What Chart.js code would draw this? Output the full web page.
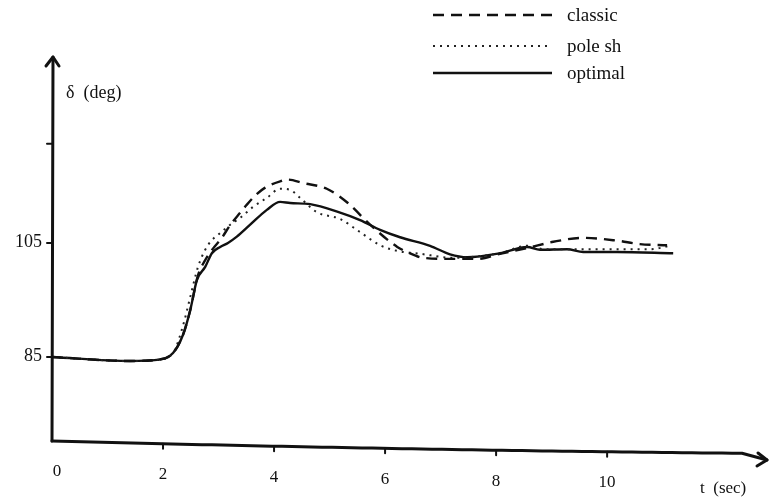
<!DOCTYPE html>
<html>
<head>
<meta charset="utf-8">
<script src="https://cdn.jsdelivr.net/npm/chart.js@4/dist/chart.umd.min.js"></script>
<style>
  html, body { margin: 0; padding: 0; background: #fff; }
  #wrap { width: 772px; height: 498px; }
</style>
</head>
<body>
<div id="wrap"><canvas id="c" width="772" height="498"></canvas></div>
<script>
// ---- data ----
const seriesNames = ['classic', 'pole sh', 'optimal'];

const classicT     = [0, 1.41, 1.89, 2.18, 2.36, 2.49, 2.63, 2.76, 2.9, 3.06, 3.2, 3.39, 3.5, 3.66, 3.84, 4.11, 4.25, 4.52, 4.95, 5.33, 5.73, 6.22, 6.40, 6.68, 7.17, 7.66, 8.07, 8.56, 9.03, 9.57, 10.18, 10.59, 11.08];
const classicDelta = [85.0, 84.3, 84.5, 85.7, 88.9, 93.2, 99.3, 102.0, 104.0, 105.9, 108.0, 110.3, 111.6, 113.3, 114.7, 115.8, 116.1, 115.5, 114.5, 112.0, 108.2, 104.3, 103.4, 102.4, 102.2, 102.2, 103.1, 104.1, 105.2, 105.9, 105.4, 104.8, 104.6];

const poleT     = [0, 1.41, 1.89, 2.18, 2.36, 2.49, 2.63, 2.76, 2.88, 2.99, 3.21, 3.39, 3.62, 3.87, 4.11, 4.29, 4.47, 4.77, 5.19, 5.55, 5.91, 6.22, 6.63, 7.23, 7.71, 8.07, 8.56, 8.88, 9.57, 10.18, 10.77, 11.14];
const poleDelta = [85.0, 84.3, 84.5, 85.7, 90.5, 95.5, 100.8, 103.8, 105.5, 106.4, 108.2, 109.4, 111.3, 112.9, 114.5, 114.3, 112.9, 110.4, 109.2, 106.9, 104.6, 103.6, 103.1, 102.4, 102.7, 103.2, 104.5, 103.9, 103.9, 103.9, 103.9, 104.5];

const optimalT     = [0, 1.41, 1.89, 2.18, 2.36, 2.49, 2.61, 2.76, 2.88, 3.03, 3.17, 3.33, 3.57, 3.87, 4.11, 4.29, 4.65, 5.19, 5.55, 5.91, 6.27, 6.81, 7.17, 7.48, 8.07, 8.56, 8.79, 9.28, 9.57, 10.18, 11.19];
const optimalDelta = [85.0, 84.3, 84.5, 85.7, 88.9, 93.2, 98.5, 100.8, 103.2, 104.3, 105.0, 106.1, 108.2, 110.8, 112.2, 112.0, 111.8, 110.3, 109.0, 107.3, 106.0, 104.5, 103.0, 102.5, 103.2, 104.3, 103.8, 103.9, 103.4, 103.4, 103.2];

const xTickValues = [0, 2, 4, 6, 8, 10];
const xTickLabels = ['0', '2', '4', '6', '8', '10'];
const yTickValues = [85, 105, 122.4];
const yTickLabels = ['85', '105', ''];
const xTitle = 't  (sec)';
const yTitle = 'δ  (deg)';

function pts(ts, vs) { return ts.map((t, i) => ({ x: t, y: vs[i] })); }

const INK = '#111';
const SERIF = "'Liberation Serif', 'DejaVu Serif', serif";

const datasets = [
  { label: seriesNames[0], data: pts(classicT, classicDelta), borderColor: INK, borderWidth: 2.4, borderDash: [11, 7] },
  { label: seriesNames[1], data: pts(poleT, poleDelta), borderColor: '#222', borderWidth: 2, borderDash: [2, 5] },
  { label: seriesNames[2], data: pts(optimalT, optimalDelta), borderColor: INK, borderWidth: 2.4, borderDash: [] }
];

// tilt of the scanned x-axis (pixels below the plot bottom, as function of x pixel)
function axisY(px, left, bottom) { return bottom + (px - left) * 0.026 * (1 - (px - left) / 2200); }

const decor = {
  id: 'decor',
  afterDraw(chart) {
    const ctx = chart.ctx;
    const xs = chart.scales.x, ys = chart.scales.y;
    const area = chart.chartArea;
    const left = area.left, bottom = area.bottom - 5;
    ctx.save();
    ctx.strokeStyle = INK; ctx.fillStyle = INK;
    ctx.lineCap = 'round'; ctx.lineJoin = 'round';

    // y axis with arrow
    ctx.lineWidth = 3;
    ctx.beginPath();
    ctx.moveTo(left, bottom);
    ctx.lineTo(left + 1, area.top);
    ctx.stroke();
    ctx.beginPath();
    ctx.moveTo(left - 6, area.top + 9);
    ctx.lineTo(left + 1, area.top);
    ctx.lineTo(left + 7, area.top + 9);
    ctx.stroke();

    // x axis (slightly tilted like the scan) with arrow
    const xEnd = area.right;
    ctx.beginPath();
    ctx.moveTo(left, bottom);
    for (let px = left; px <= xEnd - 20; px += 10) ctx.lineTo(px, axisY(px, left, bottom));
    ctx.lineTo(xEnd, bottom + 19);
    ctx.stroke();
    ctx.beginPath();
    ctx.moveTo(xEnd - 9, bottom + 12);
    ctx.lineTo(xEnd, bottom + 19);
    ctx.lineTo(xEnd - 10, bottom + 25);
    ctx.stroke();

    // x ticks and labels
    ctx.font = '17px ' + SERIF;
    ctx.textAlign = 'center'; ctx.textBaseline = 'middle';
    ctx.lineWidth = 2;
    xTickValues.forEach((v, i) => {
      const px = xs.getPixelForValue(v);
      const py = axisY(px, left, bottom);
      if (i > 0) {
        ctx.beginPath(); ctx.moveTo(px, py); ctx.lineTo(px, py + 5); ctx.stroke();
      }
      ctx.fillText(xTickLabels[i], px + (i === 0 ? 5 : 0), py + 31);
    });

    // y ticks and labels
    ctx.textAlign = 'right';
    ctx.font = '18px ' + SERIF;
    yTickValues.forEach((v, i) => {
      const py = ys.getPixelForValue(v);
      ctx.beginPath(); ctx.moveTo(left - 5, py); ctx.lineTo(left, py); ctx.stroke();
      if (yTickLabels[i]) ctx.fillText(yTickLabels[i], left - 10, py - 1);
    });

    // axis titles
    ctx.textAlign = 'left';
    ctx.font = '18px ' + SERIF;
    ctx.fillText(yTitle, left + 14, area.top + 36);
    ctx.font = '17px ' + SERIF;
    ctx.fillText(xTitle, area.right - 67, area.bottom + 43);

    // legend
    const lx0 = 433, lx1 = 552, rows = [15, 46, 73];
    chart.data.datasets.forEach((ds, i) => {
      ctx.save();
      ctx.strokeStyle = ds.borderColor;
      ctx.lineWidth = ds.borderWidth;
      ctx.lineCap = 'butt';
      ctx.setLineDash(ds.borderDash || []);
      ctx.beginPath(); ctx.moveTo(lx0, rows[i]); ctx.lineTo(lx1, rows[i]); ctx.stroke();
      ctx.restore();
      ctx.font = '19px ' + SERIF;
      ctx.textAlign = 'left'; ctx.textBaseline = 'middle';
      ctx.fillText(ds.label, 567, rows[i] + 1);
    });
    ctx.restore();
  }
};

new Chart(document.getElementById('c'), {
  type: 'line',
  data: { datasets },
  options: {
    responsive: false,
    animation: false,
    devicePixelRatio: 1,
    layout: { padding: { left: 52, right: 5, top: 57, bottom: 52 } },
    elements: { point: { radius: 0 }, line: { cubicInterpolationMode: 'monotone', fill: false } },
    scales: {
      x: { type: 'linear', min: 0, max: 12.88, display: false },
      y: { type: 'linear', min: 69.4, max: 137.6, display: false }
    },
    plugins: { legend: { display: false }, tooltip: { enabled: false } }
  },
  plugins: [decor]
});
</script>
</body>
</html>
